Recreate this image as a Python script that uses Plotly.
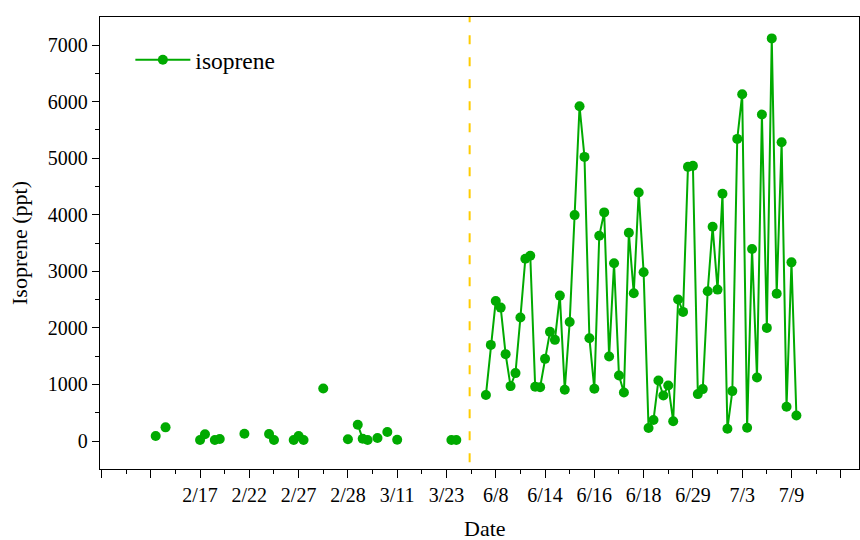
import plotly.graph_objects as go

# ---- data ----
early_idx = [11, 13, 20, 21, 23, 24, 29, 34, 35, 39, 40, 41, 45, 50, 52, 53, 54, 56, 58, 60, 71, 72]
early_vals = [88, 241, 18, 118, 18, 35, 129, 123, 18, 18, 88, 18, 929, 30, 288, 41, 18, 53, 159, 23, 18, 18]

late_start = 78
late_vals = [812, 1699, 2476, 2358, 1535, 970, 1200, 2182, 3222, 3275,
             958, 952, 1452, 1929, 1788, 2570, 905, 2105, 3993, 5917,
             5022, 1817, 923, 3628, 4041, 1493, 3141, 1158, 858, 3681,
             2611, 4394, 2982, 229, 370, 1070, 805, 982, 350, 2502,
             2282, 4846, 4864, 829, 917, 2646, 3787, 2676, 4370, 217,
             882, 5340, 6129, 235, 3393, 1122, 5770, 1999, 7117, 2605,
             5281, 605, 3158, 452]

tick_positions = [0, 10, 20, 30, 40, 50, 60, 70, 80, 90, 100, 110, 120, 130, 140, 150]
tick_labels = ['', '', '2/17', '2/22', '2/27', '2/28', '3/11', '3/23',
               '6/8', '6/14', '6/16', '6/18', '6/29', '7/3', '7/9', '']
minor_positions = [5, 15, 25, 35, 45, 55, 65, 75, 85, 95, 105, 115, 125, 135, 145]
divider_x = 74.7

# build series with gaps between non-consecutive samples
all_idx = early_idx + list(range(late_start, late_start + len(late_vals)))
all_vals = early_vals + late_vals
xs, ys = [], []
for i, (xi, yi) in enumerate(zip(all_idx, all_vals)):
    if i > 0 and xi - all_idx[i - 1] > 1:
        xs.append(None)
        ys.append(None)
    xs.append(xi)
    ys.append(yi)

GREEN = '#00AA00'
FONT = 'Liberation Serif, Times New Roman, serif'

fig = go.Figure()
fig.add_trace(go.Scatter(
    x=xs, y=ys, mode='lines+markers', name='isoprene',
    connectgaps=False,
    line=dict(color=GREEN, width=2),
    marker=dict(color=GREEN, size=10, line=dict(width=0)),
))

fig.add_shape(type='line', xref='x', yref='paper', x0=divider_x, x1=divider_x,
              y0=0.015, y1=1, line=dict(color='#FFCC00', width=2, dash='9px,13px'))

fig.add_annotation(text='Date', xref='paper', yref='paper', x=0.507, y=-0.131,
                   xanchor='center', yanchor='middle', showarrow=False,
                   borderpad=0,
                   font=dict(size=22, family=FONT, color='black'))

fig.update_layout(
    width=860, height=540,
    margin=dict(l=100, r=1, t=17, b=71),
    paper_bgcolor='white', plot_bgcolor='white',
    font=dict(family=FONT, size=20, color='black'),
    showlegend=True,
    legend=dict(x=0.04, y=0.905, xanchor='left', yanchor='middle',
                bgcolor='rgba(0,0,0,0)', font=dict(size=23.5, family=FONT),
                itemwidth=55),
    xaxis=dict(
        range=[-0.3, 153.7], showgrid=False, zeroline=False,
        showline=True, linecolor='black', linewidth=1.3, mirror=True,
        tickmode='array', tickvals=tick_positions, ticktext=tick_labels,
        ticks='outside', ticklen=8, tickwidth=1.3, tickcolor='black',
        tickfont=dict(size=20, family=FONT),
        minor=dict(tickmode='array', tickvals=minor_positions, ticks='outside',
                   ticklen=4, tickwidth=1.3, tickcolor='black'),
        automargin=False,
    ),
    yaxis=dict(
        range=[-495, 7495], showgrid=False, zeroline=False,
        showline=True, linecolor='black', linewidth=1.3, mirror=True,
        tickmode='linear', tick0=0, dtick=1000,
        ticks='outside', ticklen=7, tickwidth=1.3, tickcolor='black',
        tickfont=dict(size=20, family=FONT),
        minor=dict(dtick=500, tick0=0, ticks='outside', ticklen=4, tickwidth=1.3,
                   tickcolor='black'),
        title=dict(text='Isoprene (ppt)', font=dict(size=22, family=FONT), standoff=14),
        automargin=False,
    ),
)

fig.write_html('out.html')
